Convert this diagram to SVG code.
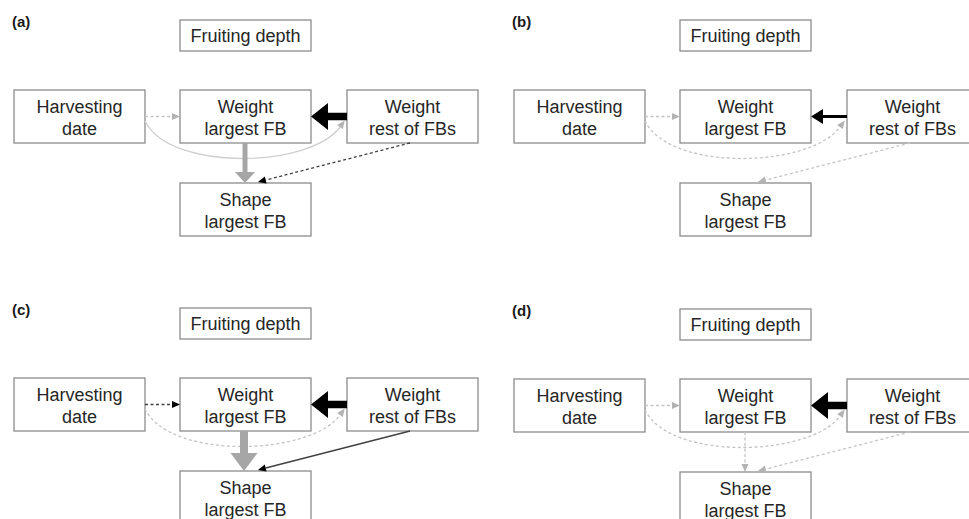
<svg xmlns="http://www.w3.org/2000/svg" width="969" height="519" viewBox="0 0 969 519">
<style>
.box{fill:#fff;stroke:#8c8c8c;stroke-width:1.3}
.t{font-family:"Liberation Sans",Arial,sans-serif;font-size:18px;fill:#262626;text-anchor:middle}
.lbl{font-family:"Liberation Sans",Arial,sans-serif;font-size:15px;font-weight:bold;fill:#1a1a1a}
.lgd{fill:none;stroke:#c4c4c4;stroke-width:1.3;stroke-dasharray:3 2.5}
.lgs{fill:none;stroke:#cfcfcf;stroke-width:1.3}
.dkd{fill:none;stroke:#404040;stroke-width:1.3;stroke-dasharray:3 2.5}
.dks{fill:none;stroke:#404040;stroke-width:1.3}
.gr5{fill:none;stroke:#a6a6a6;stroke-width:5}
.gr8{fill:none;stroke:#a6a6a6;stroke-width:8}
.bk8{fill:none;stroke:#000;stroke-width:7.5}
.bk3{fill:none;stroke:#000;stroke-width:3}
</style>
<defs>
<marker id="mlg" markerUnits="userSpaceOnUse" markerWidth="9" markerHeight="8" refX="0" refY="4" orient="auto" overflow="visible"><path d="M0,0.5 L8,4 L0,7.5 z" fill="#b3b3b3"/></marker>
<marker id="mdk" markerUnits="userSpaceOnUse" markerWidth="9" markerHeight="8" refX="0" refY="4" orient="auto" overflow="visible"><path d="M0,0.5 L8,4 L0,7.5 z" fill="#000"/></marker>
<marker id="mgs" markerUnits="userSpaceOnUse" markerWidth="11" markerHeight="20" refX="0" refY="10" orient="auto" overflow="visible"><path d="M0,0 L11,10 L0,20 z" fill="#a6a6a6"/></marker>
<marker id="mgl" markerUnits="userSpaceOnUse" markerWidth="18" markerHeight="27" refX="0" refY="13.5" orient="auto" overflow="visible"><path d="M0,0 L18,13.5 L0,27 z" fill="#a6a6a6"/></marker>
<marker id="mbl" markerUnits="userSpaceOnUse" markerWidth="17" markerHeight="27" refX="0" refY="13.5" orient="auto" overflow="visible"><path d="M0,0 L17,13.5 L0,27 z" fill="#000"/></marker>
<marker id="mbm" markerUnits="userSpaceOnUse" markerWidth="12" markerHeight="15" refX="0" refY="7.5" orient="auto" overflow="visible"><path d="M0,0 L12,7.5 L0,15 z" fill="#000"/></marker>
</defs>
<rect width="969" height="519" fill="#fff"/>

<!-- Panel (a) -->
<g id="panel-a">
<text class="lbl" x="12" y="27">(a)</text>
<g id="a-fruit"><rect class="box" x="180" y="20" width="131" height="31"/><text class="t" x="245.5" y="41.5">Fruiting depth</text></g>
<g id="a-harv"><rect class="box" x="14" y="90" width="131" height="53"/><text class="t" x="79.5" y="113">Harvesting</text><text class="t" x="79.5" y="134.5">date</text></g>
<g id="a-wl"><rect class="box" x="180" y="90" width="131" height="53"/><text class="t" x="245.5" y="113">Weight</text><text class="t" x="245.5" y="134.5">largest FB</text></g>
<g id="a-wr"><rect class="box" x="347" y="90" width="131" height="53"/><text class="t" x="412.5" y="113">Weight</text><text class="t" x="412.5" y="134.5">rest of FBs</text></g>
<g id="a-sh"><rect class="box" x="180" y="183" width="131" height="53"/><text class="t" x="245.5" y="206">Shape</text><text class="t" x="245.5" y="227.5">largest FB</text></g>
<g id="a-conn">
<line class="lgd" x1="145" y1="116.5" x2="172" y2="116.5" marker-end="url(#mlg)"/>
<path class="lgs" d="M145,121 C170,172 310,168 340,127" marker-end="url(#mlg)"/>
<line class="gr5" x1="245" y1="143" x2="245" y2="172" marker-end="url(#mgs)"/>
<line class="dkd" x1="410" y1="143" x2="265.7" y2="180" marker-end="url(#mdk)"/>
<line class="bk8" x1="347" y1="116.5" x2="328" y2="116.5" marker-end="url(#mbl)"/>
</g>
</g>

<!-- Panel (b) -->
<g id="panel-b">
<text class="lbl" x="512" y="27">(b)</text>
<g id="b-fruit"><rect class="box" x="680" y="20" width="131" height="31"/><text class="t" x="745.5" y="41.5">Fruiting depth</text></g>
<g id="b-harv"><rect class="box" x="514" y="90" width="131" height="53"/><text class="t" x="579.5" y="113">Harvesting</text><text class="t" x="579.5" y="134.5">date</text></g>
<g id="b-wl"><rect class="box" x="680" y="90" width="131" height="53"/><text class="t" x="745.5" y="113">Weight</text><text class="t" x="745.5" y="134.5">largest FB</text></g>
<g id="b-wr"><rect class="box" x="847" y="90" width="131" height="53"/><text class="t" x="912.5" y="113">Weight</text><text class="t" x="912.5" y="134.5">rest of FBs</text></g>
<g id="b-sh"><rect class="box" x="680" y="183" width="131" height="53"/><text class="t" x="745.5" y="206">Shape</text><text class="t" x="745.5" y="227.5">largest FB</text></g>
<g id="b-conn">
<line class="lgd" x1="645" y1="116.5" x2="672" y2="116.5" marker-end="url(#mlg)"/>
<path class="lgd" d="M645,121 C670,172 810,168 840,127" marker-end="url(#mlg)"/>
<line class="lgd" x1="910" y1="143" x2="765.7" y2="180" marker-end="url(#mlg)"/>
<line class="bk3" x1="847" y1="116.5" x2="823" y2="116.5" marker-end="url(#mbm)"/>
</g>
</g>

<!-- Panel (c) -->
<g id="panel-c">
<text class="lbl" x="12" y="315">(c)</text>
<g id="c-fruit"><rect class="box" x="180" y="308" width="131" height="31"/><text class="t" x="245.5" y="329.5">Fruiting depth</text></g>
<g id="c-harv"><rect class="box" x="14" y="378" width="131" height="53"/><text class="t" x="79.5" y="401">Harvesting</text><text class="t" x="79.5" y="422.5">date</text></g>
<g id="c-wl"><rect class="box" x="180" y="378" width="131" height="53"/><text class="t" x="245.5" y="401">Weight</text><text class="t" x="245.5" y="422.5">largest FB</text></g>
<g id="c-wr"><rect class="box" x="347" y="378" width="131" height="53"/><text class="t" x="412.5" y="401">Weight</text><text class="t" x="412.5" y="422.5">rest of FBs</text></g>
<g id="c-sh"><rect class="box" x="180" y="471" width="131" height="53"/><text class="t" x="245.5" y="494">Shape</text><text class="t" x="245.5" y="515.5">largest FB</text></g>
<g id="c-conn">
<line class="dkd" x1="145" y1="404.5" x2="172" y2="404.5" marker-end="url(#mdk)"/>
<path class="lgd" d="M145,409 C170,460 310,456 340,415" marker-end="url(#mlg)"/>
<line class="gr8" x1="244" y1="431" x2="244" y2="453" marker-end="url(#mgl)"/>
<line class="dks" x1="410" y1="431" x2="265.7" y2="468" marker-end="url(#mdk)"/>
<line class="bk8" x1="347" y1="404.5" x2="328" y2="404.5" marker-end="url(#mbl)"/>
</g>
</g>

<!-- Panel (d) -->
<g id="panel-d">
<text class="lbl" x="512" y="316">(d)</text>
<g id="d-fruit"><rect class="box" x="680" y="309" width="131" height="31"/><text class="t" x="745.5" y="330.5">Fruiting depth</text></g>
<g id="d-harv"><rect class="box" x="514" y="379" width="131" height="53"/><text class="t" x="579.5" y="402">Harvesting</text><text class="t" x="579.5" y="423.5">date</text></g>
<g id="d-wl"><rect class="box" x="680" y="379" width="131" height="53"/><text class="t" x="745.5" y="402">Weight</text><text class="t" x="745.5" y="423.5">largest FB</text></g>
<g id="d-wr"><rect class="box" x="847" y="379" width="131" height="53"/><text class="t" x="912.5" y="402">Weight</text><text class="t" x="912.5" y="423.5">rest of FBs</text></g>
<g id="d-sh"><rect class="box" x="680" y="472" width="131" height="53"/><text class="t" x="745.5" y="495">Shape</text><text class="t" x="745.5" y="516.5">largest FB</text></g>
<g id="d-conn">
<line class="lgd" x1="645" y1="405.5" x2="672" y2="405.5" marker-end="url(#mlg)"/>
<path class="lgd" d="M645,410 C670,461 810,457 840,416" marker-end="url(#mlg)"/>
<line class="lgd" x1="745" y1="432" x2="745" y2="464" marker-end="url(#mlg)"/>
<line class="lgd" x1="910" y1="432" x2="765.7" y2="469" marker-end="url(#mlg)"/>
<line class="bk8" x1="847" y1="405.5" x2="828" y2="405.5" marker-end="url(#mbl)"/>
</g>
</g>
</svg>
